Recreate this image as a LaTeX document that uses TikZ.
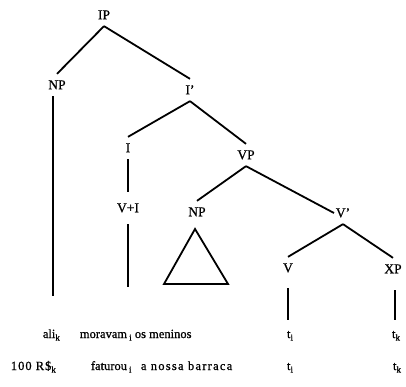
\documentclass[tikz,border=0pt]{standalone}
\usepackage{fontspec}
\setmainfont[FakeBold=0.8]{Liberation Serif}
\newcommand\sbx[1]{\raisebox{-2.6pt}{\fontsize{9}{9}\selectfont #1}}
\begin{document}
\begin{tikzpicture}[x=1pt,y=-1pt,line width=1.8pt,
  lab/.style={inner xsep=1pt,inner ysep=6pt,text height=8.5pt,text depth=0pt,font=\fontsize{13.5}{15}\selectfont},
  word/.style={anchor=base west,inner sep=0pt,font=\fontsize{12.5}{14}\selectfont},
  trace/.style={anchor=base,inner sep=0pt,font=\fontsize{12.5}{14}\selectfont}]
\useasboundingbox (0,0) rectangle (406,387);
% labels
\node[lab] (IP) at (104,15) {IP};
\node[lab] (NP) at (57,85) {NP};
\node[lab] (Ib) at (190,90) {I'};
\node[lab] (I) at (128,148) {I};
\node[lab] (VP) at (246,155) {VP};
\node[lab] (VI) at (128,208) {V+I};
\node[lab] (NPo) at (197,212) {NP};
\node[lab] (Vb) at (343,213) {V'};
\node[lab] (V) at (288,268) {V};
\node[lab] (XP) at (393,269) {XP};
% free ends
\coordinate (eNP) at (53,296);
\coordinate (eVI) at (128,287);
\coordinate (eV) at (288,320);
\coordinate (eXP) at (395,320);
\coordinate (tA) at (195,229);
\coordinate (tL) at (164,284);
\coordinate (tR) at (228,284);
% branches
\draw (IP.south) -- (NP.north);
\draw (IP.south) -- (Ib.north);
\draw (Ib.south) -- (I.north);
\draw (Ib.south) -- (VP.north);
\draw (VP.south) -- (NPo.north);
\draw (VP.south) -- (Vb.west);
\draw (Vb.south) -- (V.north);
\draw (Vb.south) -- (XP.north);
\draw[shorten >=5pt] (I.south) -- (VI.north);
\draw[shorten <=5pt] (VI.south) -- (eVI);
\draw[shorten <=9pt] (V.south) -- (eV);
\draw[shorten <=10pt] (XP.south -| eXP) -- (eXP);
\draw (NP.south -| eNP) -- (eNP);
\draw[line join=miter] (tA) -- (tL) -- (tR) -- cycle;
% row 1
\node[word] (w1) at (42,338) {ali\sbx{k}};
\node[word] (w2) at (79,338) {moravam\,\sbx{i}};
\node[word] (w3) at (134,338) {os meninos};
\node[trace] (w4) at (290,338) {t\sbx{i}};
\node[trace] (w5) at (396,338) {t\sbx{k}};
% row 2
\node[word] (r1) at (10,370) {\addfontfeature{LetterSpace=8}100 R\$\sbx{k}};
\node[word] (r2) at (90,370) {faturou\,\sbx{i}};
\node[word] (r3) at (140,370) {\addfontfeature{LetterSpace=10}a nossa barraca};
\node[trace] (r4) at (290,370) {t\sbx{i}};
\node[trace] (r5) at (397,370) {t\sbx{k}};
\end{tikzpicture}
\end{document}
